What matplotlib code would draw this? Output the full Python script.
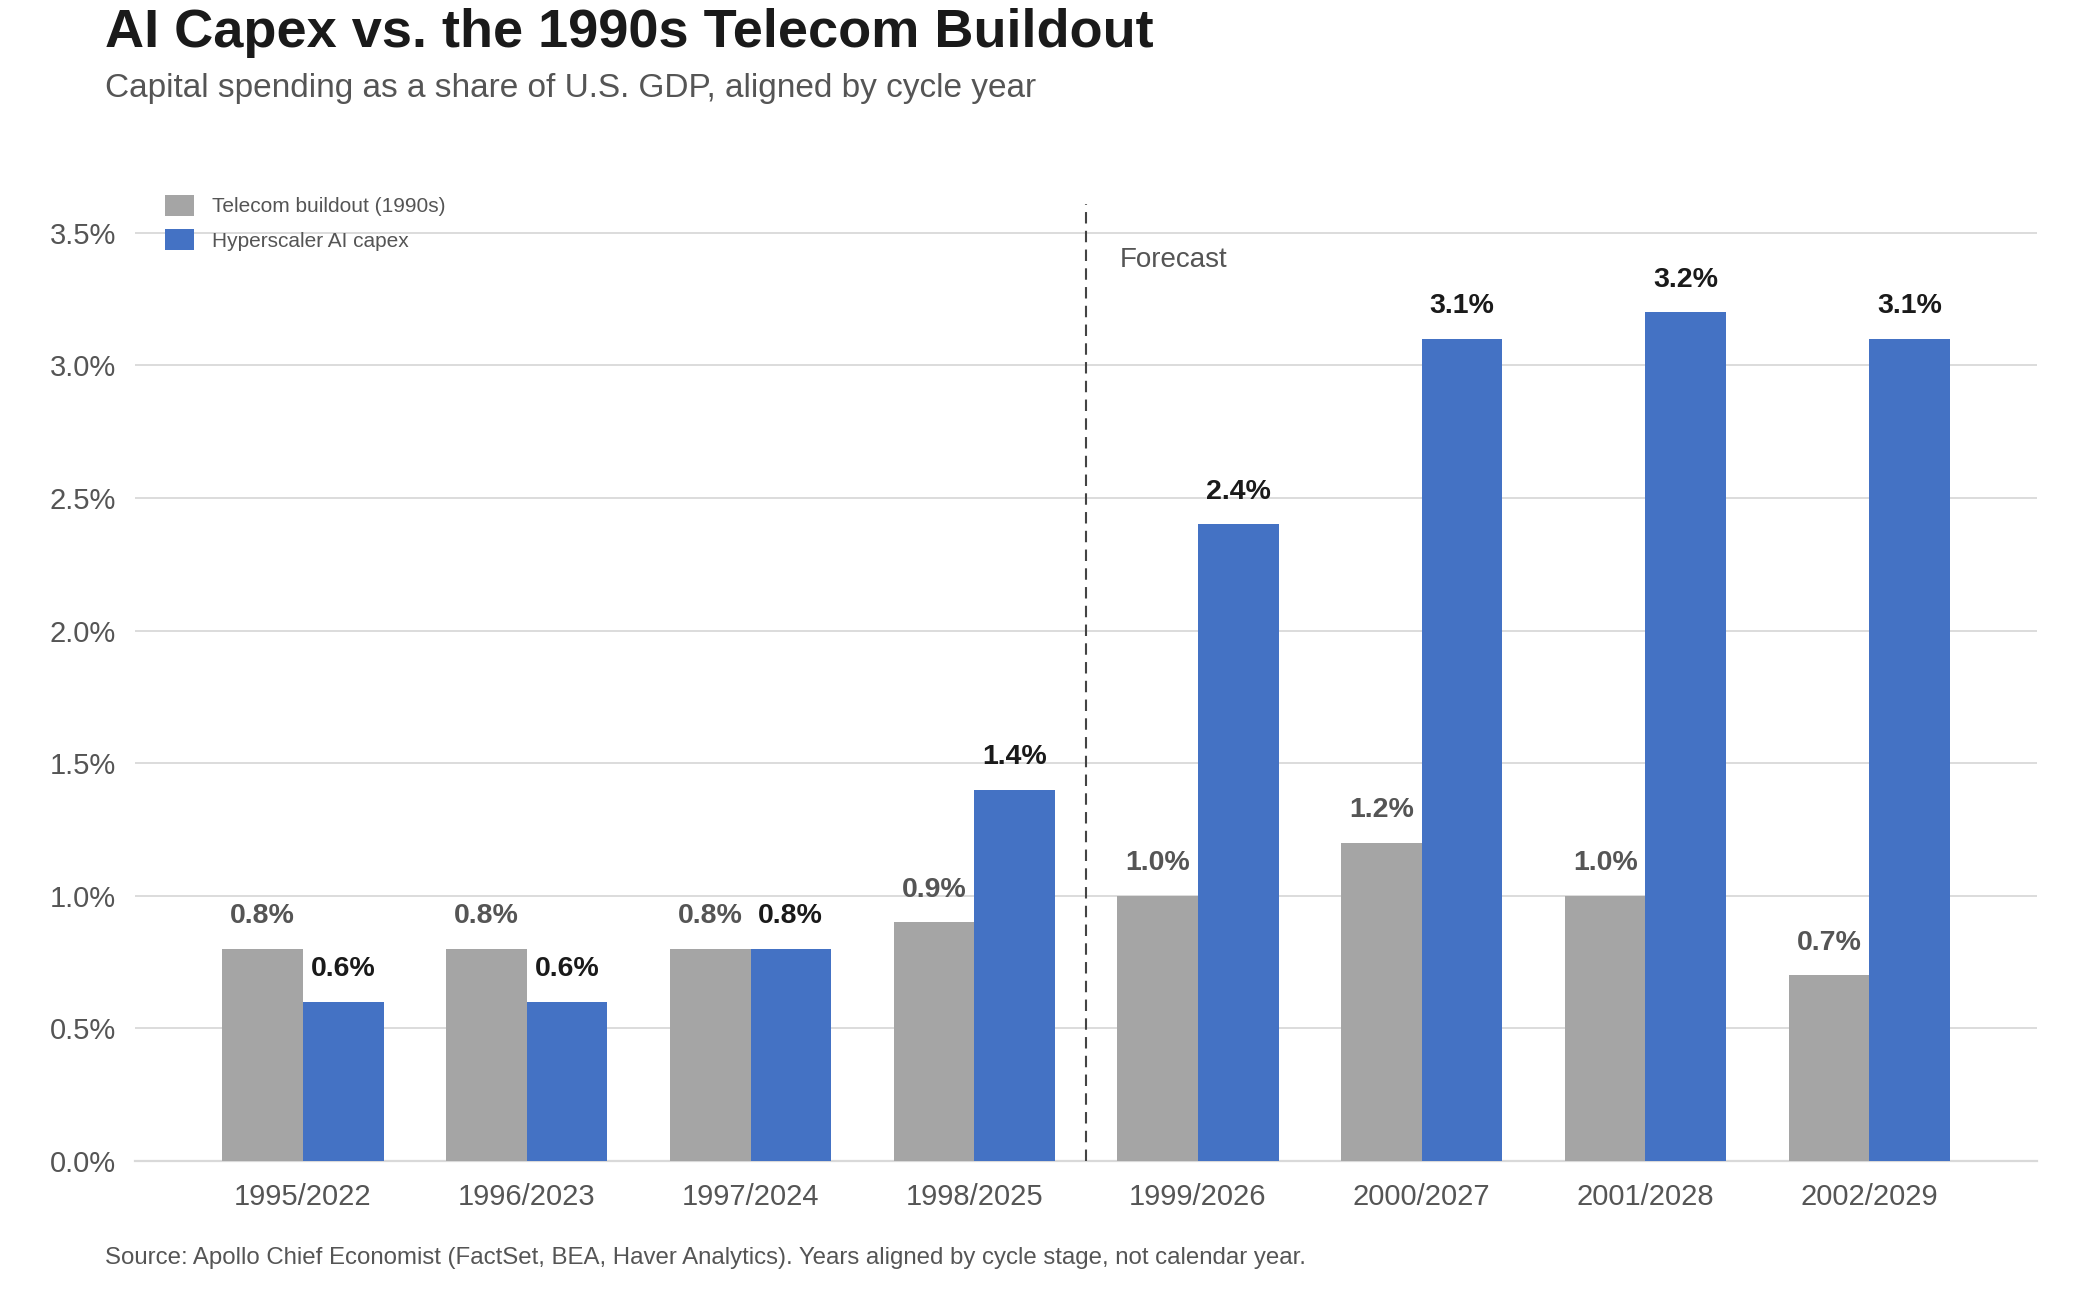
import matplotlib
matplotlib.use("Agg")
import matplotlib.pyplot as plt
import numpy as np

plt.rcParams['font.family'] = ['Liberation Sans', 'DejaVu Sans']

# data
cycle_years = ["1995/2022", "1996/2023", "1997/2024", "1998/2025",
               "1999/2026", "2000/2027", "2001/2028", "2002/2029"]
telecom = [0.8, 0.8, 0.8, 0.9, 1.0, 1.2, 1.0, 0.7]
ai_capex = [0.6, 0.6, 0.8, 1.4, 2.4, 3.1, 3.2, 3.1]
y_ticks = [0.0, 0.5, 1.0, 1.5, 2.0, 2.5, 3.0, 3.5]
forecast_start = 3.5

gray = "#A5A5A5"
blue = "#4472C4"
text_gray = "#555555"

fig = plt.figure(figsize=(21, 12.9), dpi=100)
ax = fig.add_axes([0.0644, 0.1000, 0.9056, 0.7422])

x = np.arange(len(cycle_years))
w = 0.36
b1 = ax.bar(x - w / 2, telecom, w, color=gray, label="Telecom buildout (1990s)", zorder=3)
b2 = ax.bar(x + w / 2, ai_capex, w, color=blue, label="Hyperscaler AI capex", zorder=3)

# value labels above bars
for xi, v in zip(x, telecom):
    ax.annotate(f"{v:.1f}%", (xi - w / 2, v), xytext=(0, 18.5), textcoords="offset points",
                ha="center", va="baseline", fontsize=20.5, fontweight="bold", color=text_gray)
for xi, v in zip(x, ai_capex):
    ax.annotate(f"{v:.1f}%", (xi + w / 2, v), xytext=(0, 18.5), textcoords="offset points",
                ha="center", va="baseline", fontsize=20.5, fontweight="bold", color="#1a1a1a")

ax.set_xlim(-0.75, len(cycle_years) - 0.25)
ax.set_ylim(0, 3.61)
ax.set_yticks(y_ticks)
ax.set_yticklabels([f"{t:.1f}%" for t in y_ticks])
ax.set_xticks(x)
ax.set_xticklabels(cycle_years)
ax.tick_params(axis="both", length=0, labelsize=21, labelcolor=text_gray)
ax.tick_params(axis="y", pad=14)
ax.tick_params(axis="x", pad=16)

ax.grid(axis="y", color="#d9d9d9", linewidth=1.3, zorder=0)
for s in ["top", "right", "left"]:
    ax.spines[s].set_visible(False)
ax.spines["bottom"].set_color("#d9d9d9")
ax.spines["bottom"].set_linewidth(1.6)

# forecast divider
ax.axvline(forecast_start, color="#444444", linewidth=1.5, linestyle=(0, (5.5, 3.5)), zorder=4)
ax.text(forecast_start + 0.15, 3.37, "Forecast", fontsize=20, color=text_gray, va="baseline")

fig.legend(handles=[b1, b2], loc="upper left", bbox_to_anchor=(165 / 2100, 1 - 195 / 1290),
           frameon=False, fontsize=15, handlelength=1.4, handleheight=1.15,
           handletextpad=0.85, labelspacing=0.62, borderpad=0, borderaxespad=0,
           labelcolor=text_gray)

fig.text(0.0498, 1 - 47 / 1290, "AI Capex vs. the 1990s Telecom Buildout",
         fontsize=39, fontweight="bold", color="#1a1a1a", va="baseline")
fig.text(0.0498, 1 - 97 / 1290, "Capital spending as a share of U.S. GDP, aligned by cycle year",
         fontsize=24, color=text_gray, va="baseline")
fig.text(0.0498, 1 - 1264 / 1290,
         "Source: Apollo Chief Economist (FactSet, BEA, Haver Analytics). Years aligned by cycle stage, not calendar year.",
         fontsize=17.3, color=text_gray, va="baseline")

fig.savefig("out.png", dpi=100)
